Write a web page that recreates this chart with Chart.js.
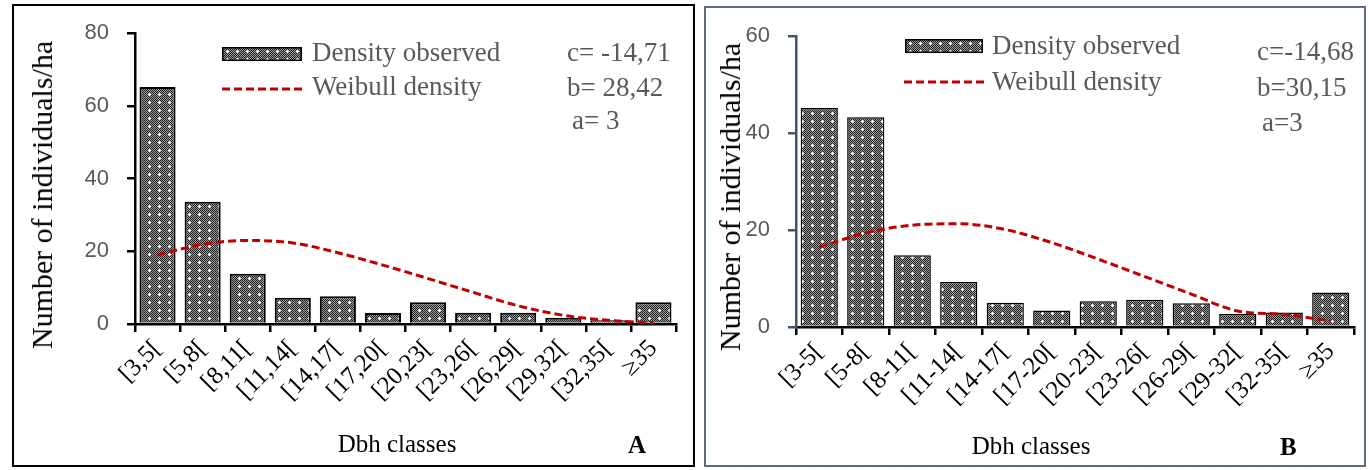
<!DOCTYPE html>
<html>
<head>
<meta charset="utf-8">
<script src="https://cdn.jsdelivr.net/npm/chart.js@4.4.1/dist/chart.umd.min.js"></script>
<style>
  body { margin: 0; width: 1369px; height: 470px; background: #fff; position: relative; overflow: hidden; font-family: "Liberation Serif", serif; }
  .panel { position: absolute; box-sizing: border-box; }
  #panelA { left: 12px; top: 4px; width: 683px; height: 463px; border: 2.5px solid #000; }
  #panelB { left: 704px; top: 6px; width: 662px; height: 461px; border: 2.5px solid #5b6b82; }
  canvas.chart { position: absolute; }
  .txt { position: absolute; font-size: 27px; line-height: 27px; white-space: nowrap; color: #595959; }
  .ytitle { position: absolute; font-size: 30px; line-height: 30px; white-space: nowrap; color: #000;
            transform: translate(-50%, -50%) rotate(-90deg); }
  .xtitle { position: absolute; font-size: 25px; line-height: 25px; white-space: nowrap; color: #000; transform: translateX(-50%); }
  .tag { position: absolute; font-size: 25px; line-height: 25px; font-weight: bold; color: #000; }
  canvas.key { position: absolute; }
</style>
</head>
<body>
<div class="panel" id="panelA"></div>
<div class="panel" id="panelB"></div>

<canvas class="chart" id="chartA" width="678" height="461" style="left:14px;top:2px"></canvas>
<canvas class="chart" id="chartB" width="656" height="459" style="left:707px;top:5px"></canvas>

<!-- chart A texts -->
<div class="ytitle" style="left:42px;top:195px">Number of individuals/ha</div>
<canvas class="key" id="boxA" width="80" height="14" style="left:222px;top:47px"></canvas>
<canvas class="key" id="dashA" width="80" height="6" style="left:222px;top:86px"></canvas>
<div class="txt" style="left:312px;top:39px">Density observed</div>
<div class="txt" style="left:312px;top:73px">Weibull density</div>
<div class="txt" style="left:567px;top:39px">c= -14,71</div>
<div class="txt" style="left:567px;top:74px">b= 28,42</div>
<div class="txt" style="left:572px;top:107px">a= 3</div>
<div class="xtitle" style="left:397px;top:431px">Dbh classes</div>
<div class="tag" style="left:628px;top:432px">A</div>

<!-- chart B texts -->
<div class="ytitle" style="left:730px;top:197px">Number of individuals/ha</div>
<canvas class="key" id="boxB" width="78" height="14" style="left:905px;top:39px"></canvas>
<canvas class="key" id="dashB" width="80" height="6" style="left:904px;top:79px"></canvas>
<div class="txt" style="left:992px;top:32px">Density observed</div>
<div class="txt" style="left:992px;top:68px">Weibull density</div>
<div class="txt" style="left:1257px;top:38px">c=-14,68</div>
<div class="txt" style="left:1257px;top:74px">b=30,15</div>
<div class="txt" style="left:1262px;top:109px">a=3</div>
<div class="xtitle" style="left:1031px;top:433px">Dbh classes</div>
<div class="tag" style="left:1280px;top:434px">B</div>

<script>
// data
const dbhClassesA = ["[3,5[", "[5,8[", "[8,11[", "[11,14[", "[14,17[", "[17,20[",
    "[20,23[", "[23,26[", "[26,29[", "[29,32[", "[32,35[", "\u226535"];
const observedA = [65.2, 33.6, 13.8, 7.2, 7.6, 3.0, 6.0, 3.1, 3.1, 1.7, 1.0, 6.0];
const weibullA = [19.0, 21.9, 23.0, 22.3, 19.6, 16.2, 12.5, 8.7, 5.0, 2.4, 1.0, 0.3];
const yTicksA = [0, 20, 40, 60, 80];

const dbhClassesB = ["[3-5[", "[5-8[", "[8-11[", "[11-14[", "[14-17[", "[17-20[",
    "[20-23[", "[23-26[", "[26-29[", "[29-32[", "[32-35[", "\u226535"];
const observedB = [45.2, 43.3, 14.8, 9.3, 5.0, 3.4, 5.3, 5.6, 4.9, 2.7, 3.0, 7.1];
const weibullB = [16.5, 19.4, 21.0, 21.3, 20.1, 17.4, 14.0, 10.4, 6.8, 3.3, 2.6, 1.2];
const yTicksB = [0, 20, 40, 60];

const weibullRed = "#c00000";

// dotted grey fill with small white crosses
function dotTile() {
    const c = document.createElement("canvas");
    c.width = 10;
    c.height = 8;
    const ctx = c.getContext("2d");
    for (let y = 0; y < 8; y++) {
        for (let x = 0; x < 10; x++) {
            ctx.fillStyle = (x + y) % 2 ? "#a0a0a0" : "#1c1c1c";
            ctx.fillRect(x, y, 1, 1);
        }
    }
    ctx.fillStyle = "#fff";
    ctx.fillRect(5, 3, 1, 3);
    ctx.fillRect(4, 4, 3, 1);
    return c;
}
const tile = dotTile();

function makeConfig(canvas, labels, observed, weibull, yTicks, axisColor, yWidth, xHeight, pad, barBorder) {
    const pattern = canvas.getContext("2d").createPattern(tile, "repeat");
    return {
        type: "bar",
        data: {
            labels: labels,
            datasets: [{
                type: "line",
                label: "Weibull density",
                data: weibull,
                borderColor: weibullRed,
                borderWidth: 3,
                borderDash: [8, 4],
                pointRadius: 0,
                cubicInterpolationMode: "monotone",
                fill: false,
                order: 0,
            }, {
                type: "bar",
                label: "Density observed",
                data: observed,
                backgroundColor: pattern,
                borderColor: "#000",
                borderWidth: barBorder,
                barPercentage: 0.8,
                categoryPercentage: 1,
                order: 1,
            }],
        },
        options: {
            responsive: false,
            animation: false,
            devicePixelRatio: 1,
            layout: { padding: pad },
            plugins: { legend: { display: false }, tooltip: { enabled: false } },
            scales: {
                x: {
                    grid: { offset: true, drawOnChartArea: false, drawTicks: true, tickLength: 8, color: "#000", lineWidth: 2.5 },
                    border: { display: true, color: "#000", width: 2.5 },
                    ticks: {
                        autoSkip: false, maxRotation: 45, minRotation: 45, padding: 2,
                        color: "#000", font: { family: "Liberation Serif", size: 25 },
                    },
                    afterFit: (s) => { s.height = xHeight; },
                },
                y: {
                    min: yTicks[0],
                    max: yTicks[yTicks.length - 1],
                    afterBuildTicks: (s) => { s.ticks = yTicks.map(v => ({ value: v })); },
                    grid: { drawOnChartArea: false, drawTicks: true, tickLength: 8, color: axisColor, lineWidth: 2.5 },
                    border: { display: true, color: axisColor, width: 2.5 },
                    ticks: { padding: 18, color: "#595959", font: { family: "Liberation Sans", size: 22 } },
                    afterFit: (s) => { s.width = yWidth; },
                },
            },
        },
    };
}

// the y ticks' own padding (half a label + 18) sets the top of the plot area
const canvasA = document.getElementById("chartA");
var chartA = new Chart(canvasA,
    makeConfig(canvasA, dbhClassesA, observedA, weibullA, yTicksA, "#000", 121, 139,
        { top: 0, right: 16, left: 0, bottom: 0 }, 2));

const canvasB = document.getElementById("chartB");
var chartB = new Chart(canvasB,
    makeConfig(canvasB, dbhClassesB, observedB, weibullB, yTicksB, "#44546a", 89, 137,
        { top: 0, right: 9, left: 0, bottom: 0 }, 1.5));

// legend keys
function drawBox(id) {
    const c = document.getElementById(id);
    const ctx = c.getContext("2d");
    ctx.fillStyle = ctx.createPattern(tile, "repeat");
    ctx.fillRect(0, 0, c.width, c.height);
    ctx.strokeStyle = "#000";
    ctx.lineWidth = 1.5;
    ctx.strokeRect(0.75, 0.75, c.width - 1.5, c.height - 1.5);
}
function drawDash(id) {
    const c = document.getElementById(id);
    const ctx = c.getContext("2d");
    ctx.strokeStyle = weibullRed;
    ctx.lineWidth = 3;
    ctx.setLineDash([8, 4]);
    ctx.beginPath();
    ctx.moveTo(0, 3);
    ctx.lineTo(c.width, 3);
    ctx.stroke();
}
drawBox("boxA");
drawBox("boxB");
drawDash("dashA");
drawDash("dashB");
</script>
</body>
</html>
